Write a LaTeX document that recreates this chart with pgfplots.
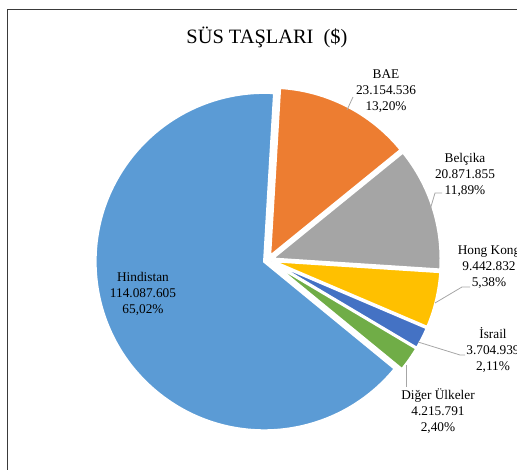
\documentclass[border=0pt]{standalone}
\usepackage{pgfplots}
\pgfplotsset{compat=1.18}
\usepackage{fontspec}
\setmainfont{Liberation Serif}
\definecolor{cH}{HTML}{5B9BD5}
\definecolor{cB}{HTML}{ED7D31}
\definecolor{cBe}{HTML}{A5A5A5}
\definecolor{cHK}{HTML}{FFC000}
\definecolor{cI}{HTML}{4472C4}
\definecolor{cD}{HTML}{70AD47}
\definecolor{lead}{HTML}{A6A6A6}
\definecolor{frame}{HTML}{3A3A3A}
% data (USD)
\def\vB{23154536}
\def\vBe{20871855}
\def\vHK{9442832}
\def\vI{3704939}
\def\vD{4215791}
\def\vH{114087605}
\def\sA{86.6}
\edef\tot{\fpeval{\vB+\vBe+\vHK+\vI+\vD+\vH}}
\edef\eB{\fpeval{\sA-360*\vB/\tot}}
\edef\eBe{\fpeval{\eB-360*\vBe/\tot}}
\edef\eHK{\fpeval{\eBe-360*\vHK/\tot}}
\edef\eI{\fpeval{\eHK-360*\vI/\tot}}
\edef\eD{\fpeval{\eI-360*\vD/\tot}}
\edef\eH{\fpeval{\sA-360}}
\def\cx{268}\def\cy{210}\def\rr{169}\def\ex{4}
\newcommand\pieslice[3]{%
  \edef\midang{\fpeval{(#2+#3)/2}}%
  \edef\px{\fpeval{\cx+\ex*cosd(\midang)}}%
  \edef\py{\fpeval{\cy+\ex*sind(\midang)}}%
  \edef\temp{\noexpand\fill[#1, draw=white, line width=2.6pt, line join=miter] (axis cs:\px,\py) -- ++(#2:\rr) arc[start angle=#2, end angle=#3, radius=\rr] -- cycle;}%
  \temp}
\begin{document}
\begin{tikzpicture}[x=1pt,y=1pt]
\useasboundingbox (0,0) rectangle (517,470);
\begin{axis}[at={(0,0)}, anchor=south west, width=517pt, height=470pt,
  scale only axis, xmin=0, xmax=517, ymin=0, ymax=470, hide axis, clip=false]
\pieslice{cB}{\sA}{\eB}
\pieslice{cBe}{\eB}{\eBe}
\pieslice{cHK}{\eBe}{\eHK}
\pieslice{cI}{\eHK}{\eI}
\pieslice{cD}{\eI}{\eD}
\pieslice{cH}{\eD}{\eH}
\draw[lead, line width=0.8pt] (axis cs:347,360) -- (axis cs:353,373);
\draw[lead, line width=0.8pt] (axis cs:430,260) -- (axis cs:435,277) -- (axis cs:442,277);
\draw[lead, line width=0.8pt] (axis cs:435,167) -- (axis cs:462,183) -- (axis cs:470,183);
\draw[lead, line width=0.8pt] (axis cs:418,128) -- (axis cs:460,115) -- (axis cs:465,115);
\draw[lead, line width=0.8pt] (axis cs:406,105) -- (axis cs:406,83);
\tikzset{lbl/.style={align=center, inner sep=0pt, font=\fontsize{13.3}{16}\selectfont}}
\node[lbl] at (axis cs:143,176) {Hindistan\\114.087.605\\65,02\%};
\node[lbl] at (axis cs:386,379) {BAE\\23.154.536\\13,20\%};
\node[lbl] at (axis cs:465,295) {Belçika\\20.871.855\\11,89\%};
\node[lbl] at (axis cs:489,203) {Hong Kong\\9.442.832\\5,38\%};
\node[lbl] at (axis cs:493,120) {İsrail\\3.704.939\\2,11\%};
\node[lbl] at (axis cs:438,59) {Diğer Ülkeler\\4.215.791\\2,40\%};
\node[font=\fontsize{20.4}{24}\selectfont, inner sep=0pt] at (axis cs:267,433) {SÜS TAŞLARI\ \ (\$)};
\end{axis}
\draw[frame, line width=1.5pt] (7.5,-5) -- (7.5,460.5) -- (530,460.5);
\end{tikzpicture}
\end{document}
